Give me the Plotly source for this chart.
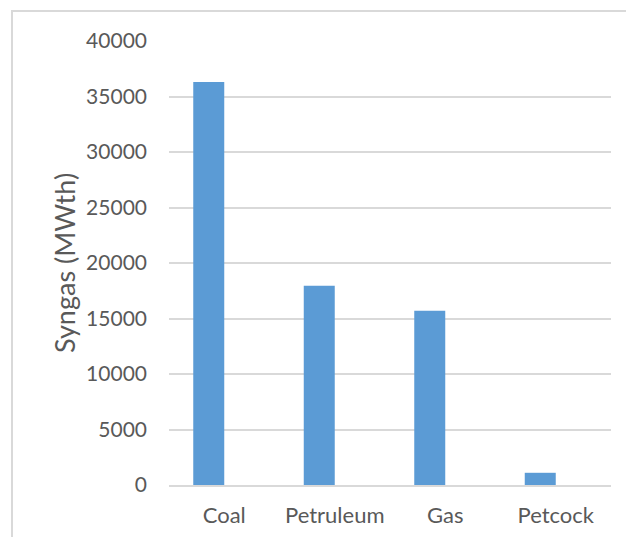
import plotly.graph_objects as go

categories = ["Coal", "Petruleum", "Gas", "Petcock"]
syngas = [36300, 17950, 15700, 1100]
empty_series = [None, None, None, None]
y_ticks = [0, 5000, 10000, 15000, 20000, 25000, 30000, 35000, 40000]
y_tick_text = ["0", "5000", "10000", "15000", "20000", "25000", "30000", "35000", "40000"]

FONT = "Lato"
GRAY = "#595959"

fig = go.Figure()
fig.add_trace(go.Bar(x=categories, y=syngas, marker=dict(color="#5B9BD5", line=dict(width=0)),
                     showlegend=False))
fig.add_trace(go.Bar(x=categories, y=empty_series, marker=dict(color="#ED7D31"), showlegend=False))

L, R, T, B = 169, 15, 41, 52
W, H = 626, 537
pw = W - L - R
ph = H - T - B

fig.update_layout(
    width=W, height=H,
    margin=dict(l=L, r=R, t=T, b=B, autoexpand=False),
    paper_bgcolor="white", plot_bgcolor="white",
    barmode="group", bargap=0.439, bargroupgap=0,
    font=dict(family=FONT, size=21, color=GRAY),
    xaxis=dict(showgrid=False, showline=True, linecolor="#D9D9D9", linewidth=2, automargin=False,
               ticks="", ticklabelstandoff=10, tickfont=dict(size=22, color=GRAY)),
    yaxis=dict(range=[0, 40000], tickvals=y_ticks, ticktext=y_tick_text, showgrid=True,
               gridcolor="#D9D9D9", gridwidth=2, zeroline=False, showline=False, ticks="",
               automargin=False, ticklabelstandoff=21, tickfont=dict(size=21, color=GRAY)),
    annotations=[dict(text="Syngas (MWth)", textangle=-90, xref="paper", yref="paper",
                      x=(64 - L) / pw, y=0.5, xanchor="center", yanchor="middle",
                      showarrow=False, font=dict(size=27, color=GRAY, family=FONT))],
    shapes=[dict(type="rect", xref="paper", yref="paper",
                 x0=(12 - L) / pw, x1=(700 - L) / pw,
                 y0=(H - B - 700) / ph, y1=(H - B - 11) / ph,
                 line=dict(color="#D9D9D9", width=2), fillcolor="rgba(0,0,0,0)", layer="below")],
)

fig.write_html("out.html")
